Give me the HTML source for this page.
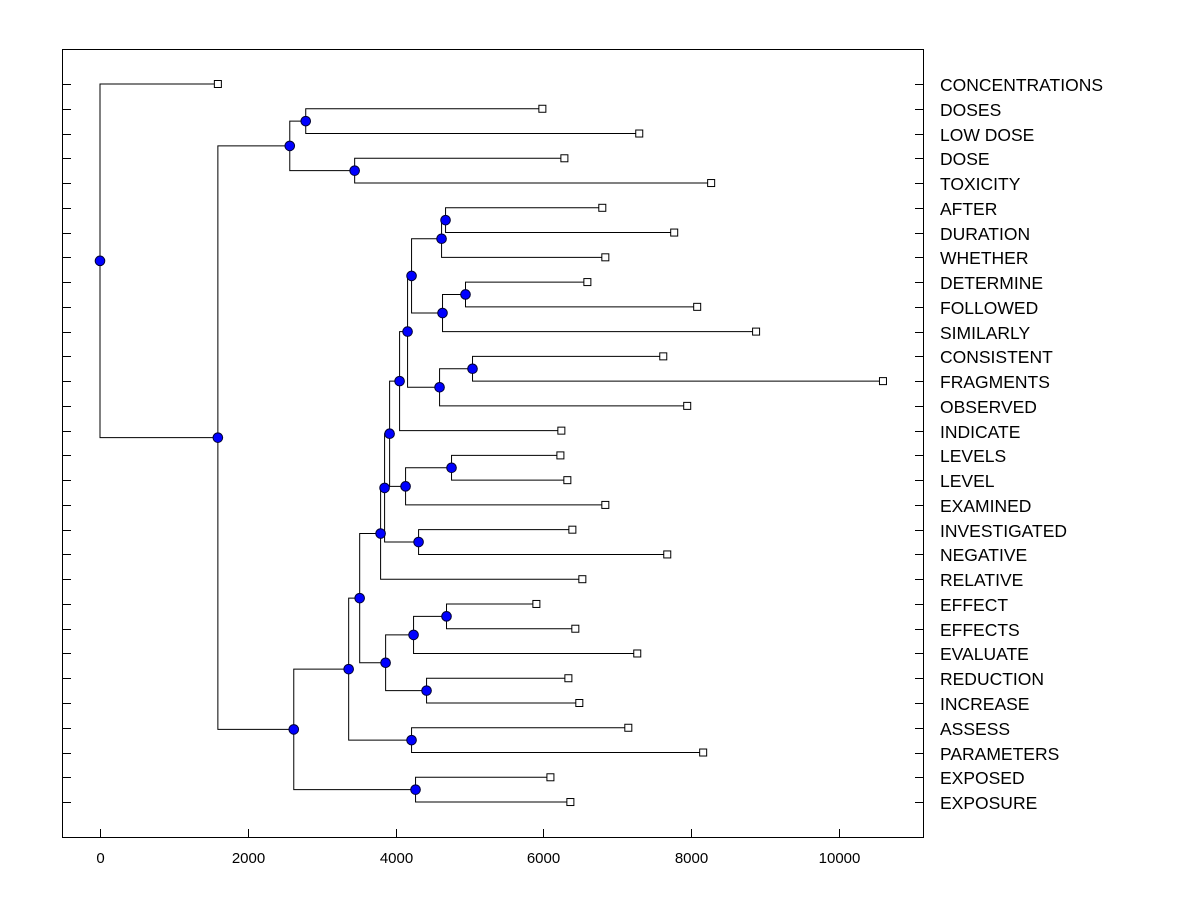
<!DOCTYPE html>
<html><head><meta charset="utf-8"><style>
html,body{margin:0;padding:0;background:#fff;}
svg{display:block;}
text{font-family:"Liberation Sans",Arial,sans-serif;fill:#000;}
</style></head><body>
<svg id="chart" width="1200" height="900" viewBox="0 0 1200 900" xmlns="http://www.w3.org/2000/svg">
<rect x="62.5" y="49.5" width="861" height="788" fill="none" stroke="#000" stroke-width="1"/>
<g id="ticks"></g><g id="links"></g><g id="marks"></g><g id="labels"></g>
</svg>
<script>
const leafNames = ["CONCENTRATIONS","DOSES","LOW DOSE","DOSE","TOXICITY","AFTER","DURATION","WHETHER","DETERMINE","FOLLOWED","SIMILARLY","CONSISTENT","FRAGMENTS","OBSERVED","INDICATE","LEVELS","LEVEL","EXAMINED","INVESTIGATED","NEGATIVE","RELATIVE","EFFECT","EFFECTS","EVALUATE","REDUCTION","INCREASE","ASSESS","PARAMETERS","EXPOSED","EXPOSURE"];
const leafValues = [1595,5986,7297,6284,8270,6797,7770,6838,6595,8081,8878,7622,10595,7946,6243,6230,6324,6838,6392,7676,6527,5905,6432,7270,6338,6486,7149,8162,6095,6365];
const nodeLeft  = [1,3,"n0",5,"n3",8,"n5","n4",11,"n8","n7","n10",15,"n12","n11",18,"n14","n16",21,"n18",24,"n19","n17",26,"n22",28,"n24","n2",0];
const nodeRight = [2,4,"n1",6,7,9,10,"n6",12,13,"n9",14,16,17,"n13",19,"n15",20,22,23,25,"n20","n21",27,"n23",29,"n25","n26","n27"];
const nodeHeights = [2784,3446,2568,4676,4622,4946,4635,4216,5041,4595,4162,4054,4757,4135,3919,4311,3851,3797,4689,4243,4419,3865,3514,4216,3365,4270,2622,1595,0];
const xTicks = [0,2000,4000,6000,8000,10000];

const NS="http://www.w3.org/2000/svg";
const x0=100, pxPer=0.0739, rowTop=84, rowStep=24.76;
const xs=v=>x0+v*pxPer;
const ys=i=>rowTop+i*rowStep;
function mk(tag,attrs,parent){const e=document.createElementNS(NS,tag);for(const k in attrs)e.setAttribute(k,attrs[k]);document.getElementById(parent).appendChild(e);return e;}

leafNames.forEach((n,i)=>{
  const y=Math.round(ys(i))+0.5;
  const t1=mk('line',{x1:62,x2:71,y1:y,y2:y,stroke:'#000'},'ticks');
  
  
  const t2=mk('line',{x1:915,x2:923,y1:y,y2:y,stroke:'#000'},'ticks');
  
  
  const lb=mk('text',{x:940,y:y+6.5,'font-size':17.5},'labels');
  lb.textContent=n;
  
  
});
xTicks.forEach(v=>{
  const x=Math.round(xs(v))+0.5;
  const t=mk('line',{x1:x,x2:x,y1:829,y2:838,stroke:'#000'},'ticks');
  
  
  const lb=mk('text',{x:x,y:863,'font-size':15,'text-anchor':'middle'},'labels');
  lb.textContent=String(v);
  
  
});

const nodePos={};
function pos(ref){
  if(typeof ref==='number') return {x:xs(leafValues[ref]),y:ys(ref)};
  const k=parseInt(ref.slice(1));
  if(nodePos[k]) return nodePos[k];
  const a=pos(nodeLeft[k]), b=pos(nodeRight[k]);
  nodePos[k]={x:xs(nodeHeights[k]),y:(a.y+b.y)/2};
  return nodePos[k];
}
for(let k=0;k<nodeHeights.length;k++){
  const p=pos('n'+k), a=pos(nodeLeft[k]), b=pos(nodeRight[k]);
  const d=`M${a.x},${a.y}H${p.x}V${b.y}H${b.x}`;
  const l=mk('path',{d:d,fill:'none',stroke:'#000','stroke-width':1},'links');
  
  
}
leafValues.forEach((v,i)=>{
  const p=pos(i);
  const s=mk('rect',{x:p.x-3.5,y:p.y-3.5,width:7,height:7,fill:'#fff',stroke:'#000'},'marks');
  
  
});
for(let k=0;k<nodeHeights.length;k++){
  const p=pos('n'+k);
  const c=mk('circle',{cx:p.x,cy:p.y,r:4.8,fill:'#0000ff',stroke:'#000033','stroke-width':1},'marks');
  
  
}
</script>
</body></html>
